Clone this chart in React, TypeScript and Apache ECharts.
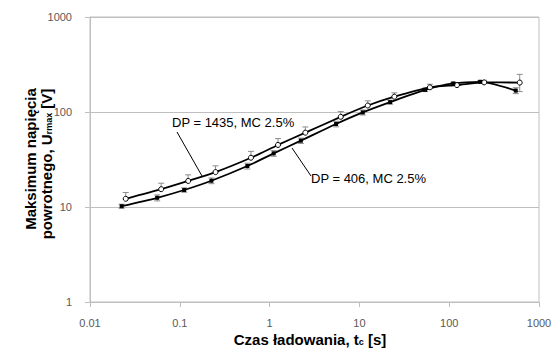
import React, { useEffect, useRef } from "react";
import * as echarts from "echarts";

// DP = 1435, MC 2.5% (open circles)
const xHigh = [0.025, 0.062, 0.124, 0.25, 0.62, 1.24, 2.5, 6.2, 12.4, 24.5, 61, 122, 245, 610];
const yHigh = [12.2, 15.4, 18.8, 23.3, 33, 45, 60.6, 89, 117, 145, 182, 192, 205, 204];
const errHighPlus = [2.0, 2.4, 3.0, 3.8, 5.5, 7.5, 9, 12, 14, 14, 14, 10, 10, 45];
const errHighMinus = [0, 0, 0, 0, 0, 0, 0, 0, 0, 0, 0, 0, 0, 40];

// DP = 406, MC 2.5% (filled squares)
const xLow = [0.0225, 0.056, 0.112, 0.225, 0.565, 1.11, 2.23, 5.5, 10.9, 22, 54, 111, 221, 551];
const yLow = [10.2, 12.5, 15.1, 18.9, 27, 36.7, 49.9, 74.8, 99, 127, 171, 200, 208, 168];
const errLow = [0.5, 0.9, 0.8, 1.3, 1.9, 2.5, 3.2, 5, 6, 6, 7, 5, 5, 12];

const xTickLabels = ["0.01", "0.1", "1", "10", "100", "1000"];
const yTickLabels = ["1", "10", "100", "1000"];

const labelHigh = "DP = 1435, MC 2.5%";
const labelLow = "DP = 406, MC 2.5%";

const FONT = "'Liberation Sans', Arial, sans-serif";

function errorSeries(xs: number[], ys: number[], plus: number[], minus: number[]) {
  const data = xs.map((x, i) => [x, ys[i], ys[i] - minus[i], ys[i] + plus[i]]);
  return {
    type: "custom",
    z: 1,
    silent: true,
    data,
    renderItem: (_params: any, api: any) => {
      const x = api.value(0);
      const lo = api.value(2);
      const hi = api.value(3);
      const pHi = api.coord([x, hi]);
      const pLo = api.coord([x, lo]);
      const style = { stroke: "#8c8c8c", lineWidth: 1 };
      const children: any[] = [
        { type: "line", shape: { x1: pHi[0], y1: pHi[1], x2: pLo[0], y2: pLo[1] }, style },
      ];
      if (api.value(3) !== api.value(1)) {
        children.push({ type: "line", shape: { x1: pHi[0] - 3, y1: pHi[1], x2: pHi[0] + 3, y2: pHi[1] }, style });
      }
      if (api.value(2) !== api.value(1)) {
        children.push({ type: "line", shape: { x1: pLo[0] - 3, y1: pLo[1], x2: pLo[0] + 3, y2: pLo[1] }, style });
      }
      return { type: "group", children };
    },
  };
}

export default function App() {
  const ref = useRef<HTMLDivElement>(null);
  useEffect(() => {
    if (!ref.current) return;
    const chart = echarts.init(ref.current, null, { renderer: "svg" });
    chart.setOption({
      animation: false,
      backgroundColor: "#ffffff",
      grid: {
        left: 90,
        right: 16,
        top: 17,
        bottom: 47,
        show: true,
        borderColor: "#bfbfbf",
        borderWidth: 1,
      },
      xAxis: {
        type: "log",
        logBase: 10,
        min: 0.01,
        max: 1000,
        axisLine: { show: true, lineStyle: { color: "#bfbfbf" } },
        axisTick: { show: true, length: 5, lineStyle: { color: "#bfbfbf" } },
        axisLabel: {
          color: "#595959",
          fontSize: 11,
          fontFamily: FONT,
          margin: 15,
          formatter: (_v: number, i: number) => xTickLabels[i] ?? "",
        },
        splitLine: { show: false },
      },
      yAxis: {
        type: "log",
        logBase: 10,
        min: 1,
        max: 1000,
        axisLine: { show: true, lineStyle: { color: "#bfbfbf" } },
        axisTick: { show: true, length: 5, lineStyle: { color: "#bfbfbf" } },
        axisLabel: {
          color: "#595959",
          fontSize: 11,
          fontFamily: FONT,
          margin: 18,
          formatter: (_v: number, i: number) => yTickLabels[i] ?? "",
        },
        splitLine: { show: true, lineStyle: { color: "#bfbfbf" } },
      },
      series: [
        errorSeries(xHigh, yHigh, errHighPlus, errHighMinus),
        errorSeries(xLow, yLow, errLow, errLow),
        {
          type: "line",
          name: labelHigh,
          z: 3,
          data: xHigh.map((x, i) => [x, yHigh[i]]),
          smooth: 0.25,
          symbol: "circle",
          symbolSize: 5,
          lineStyle: { color: "#000", width: 1.8 },
          itemStyle: { color: "#ffffff", borderColor: "#000", borderWidth: 1 },
        },
        {
          type: "line",
          name: labelLow,
          z: 3,
          data: xLow.map((x, i) => [x, yLow[i]]),
          smooth: 0.25,
          symbol: "rect",
          symbolSize: 4,
          lineStyle: { color: "#000", width: 1.8 },
          itemStyle: { color: "#000" },
        },
      ],
      graphic: [
        {
          type: "text",
          left: 172,
          top: 116,
          style: { text: labelHigh, fontSize: 13, fontFamily: FONT, fill: "#000" },
        },
        {
          type: "line",
          shape: { x1: 177, y1: 132, x2: 202, y2: 176 },
          style: { stroke: "#000", lineWidth: 1 },
        },
        {
          type: "text",
          left: 311,
          top: 172,
          style: { text: labelLow, fontSize: 13, fontFamily: FONT, fill: "#000" },
        },
        {
          type: "line",
          shape: { x1: 292, y1: 148, x2: 311, y2: 176 },
          style: { stroke: "#000", lineWidth: 1 },
        },
        {
          type: "text",
          x: 310,
          y: 339,
          style: {
            text: "{b|Czas ładowania, t}{s|c}{b| [s]}",
            align: "center",
            verticalAlign: "middle",
            rich: {
              b: { fontSize: 15, fontWeight: "bold", fontFamily: FONT, fill: "#000" },
              s: { fontSize: 9, fontWeight: "bold", fontFamily: FONT, fill: "#000", padding: [6, 0, 0, 0] },
            },
          },
        },
        {
          type: "text",
          x: 30,
          y: 159,
          rotation: Math.PI / 2,
          style: {
            text: "Maksimum napięcia",
            align: "center",
            verticalAlign: "middle",
            fontSize: 15,
            fontWeight: "bold",
            fontFamily: FONT,
            fill: "#000",
          },
        },
        {
          type: "text",
          x: 46,
          y: 164,
          rotation: Math.PI / 2,
          style: {
            text: "{b|powrotnego, U}{s|rmax}{b| [V]}",
            align: "center",
            verticalAlign: "middle",
            rich: {
              b: { fontSize: 15, fontWeight: "bold", fontFamily: FONT, fill: "#000" },
              s: { fontSize: 9, fontWeight: "bold", fontFamily: FONT, fill: "#000", padding: [6, 0, 0, 0] },
            },
          },
        },
      ],
    });
    return () => chart.dispose();
  }, []);
  return (
    <div
      ref={ref}
      style={{ position: "absolute", left: 0, top: 0, width: 555, height: 349 }}
    />
  );
}
